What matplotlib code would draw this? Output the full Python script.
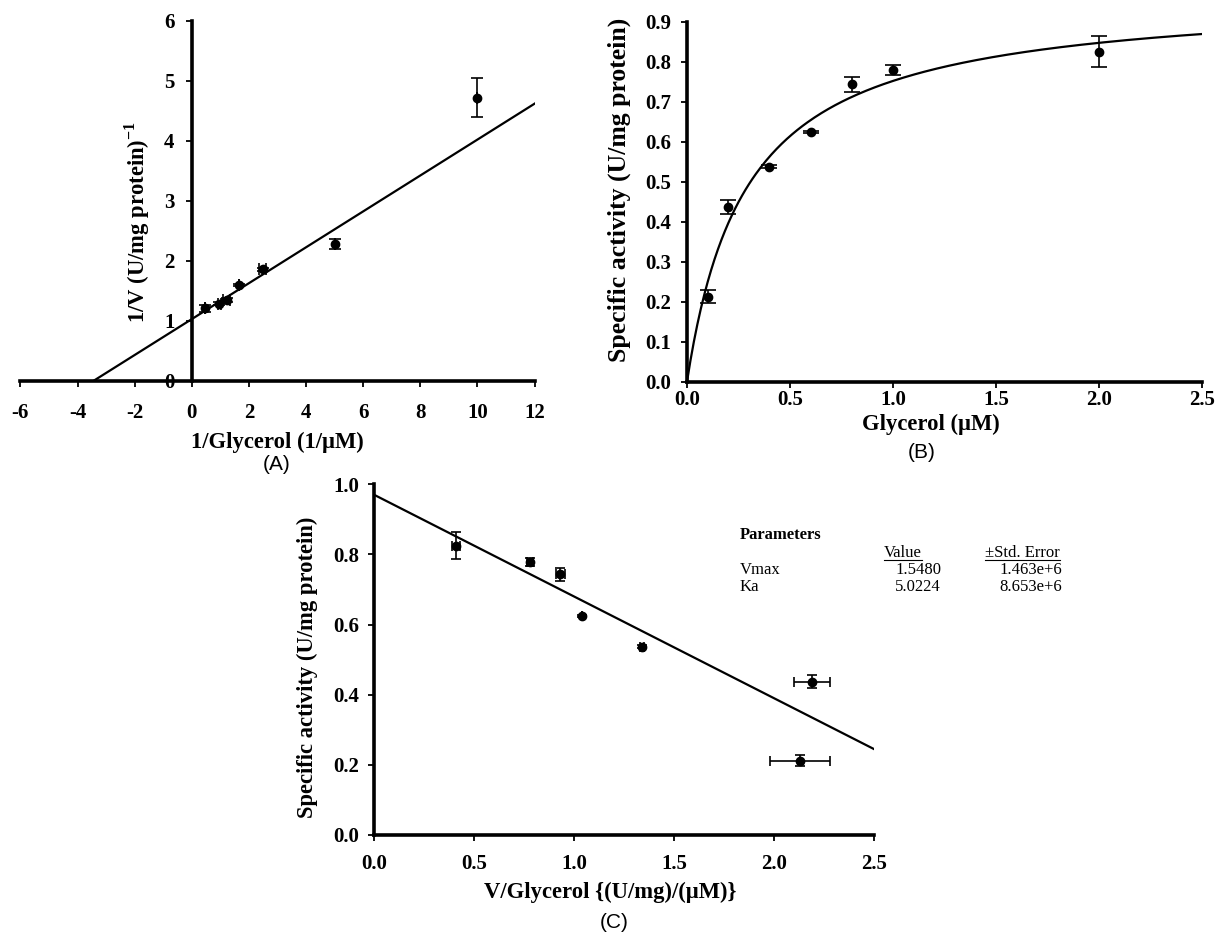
import numpy as np
import matplotlib
matplotlib.use("Agg")
import matplotlib.pyplot as plt
from matplotlib.lines import Line2D

plt.rcParams['font.family'] = ['Liberation Serif', 'DejaVu Serif']
plt.rcParams['mathtext.fontset'] = 'custom'
plt.rcParams['mathtext.rm'] = 'Liberation Serif'
plt.rcParams['mathtext.bf'] = 'Liberation Serif:bold'
plt.rcParams['axes.unicode_minus'] = False

# datos
glycerol = [0.1, 0.2, 0.4, 0.6, 0.8, 1.0, 2.0]
activity = [0.212, 0.437, 0.537, 0.624, 0.743, 0.779, 0.825]
activity_err = [0.016, 0.018, 0.004, 0.003, 0.018, 0.012, 0.039]

inv_glycerol = [10.0, 5.0, 2.48, 1.66, 1.22, 0.96, 0.46]
inv_activity = [4.72, 2.28, 1.86, 1.60, 1.35, 1.29, 1.21]
inv_activity_err = [0.33, 0.085, 0.02, 0.01, 0.03, 0.02, 0.055]
inv_glycerol_err = [0, 0, 0.12, 0, 0.12, 0.05, 0]

v_over_s = [2.13, 2.19, 1.34, 1.04, 0.93, 0.78, 0.41]
v_over_s_err = [0.148, 0.09, 0.01, 0, 0.022, 0.015, 0.02]

# parametros del ajuste (Michaelis-Menten)
vmax_fit = 0.97
km_fit = 0.29

param_names = ['Vmax', 'Ka']
param_values = ['1.5480', '5.0224']
param_errors = ['1.463e+6', '8.653e+6']

W, H = 1215, 935
fig = plt.figure(figsize=(W / 100, H / 100), dpi=100)

err_kw = dict(fmt='o', color='black', ms=6, elinewidth=1.2, capthick=1.2)


def style_axes(ax, xpad, ypad):
    ax.spines['top'].set_visible(False)
    ax.spines['right'].set_visible(False)
    for s in ['left', 'bottom']:
        ax.spines[s].set_linewidth(2.6)
    ax.tick_params(direction='out', length=4.5, width=1.3, labelsize=15)
    ax.tick_params(axis='x', pad=xpad)
    ax.tick_params(axis='y', pad=ypad)
    for lab in ax.get_xticklabels() + ax.get_yticklabels():
        lab.set_fontweight('bold')


# ---------- (A) Lineweaver-Burk ----------
axA = fig.add_axes([20.4 / W, 1 - 381 / H, 514.2 / W, 360.3 / H])
xa = np.linspace(-1 / km_fit, 12, 50)
axA.plot(xa, 1 / vmax_fit + km_fit / vmax_fit * xa, color='black', lw=1.6)
axA.errorbar(inv_glycerol, inv_activity, yerr=inv_activity_err,
             xerr=inv_glycerol_err, capsize=4.5, **err_kw)
axA.set_xlim(-6, 12)
axA.set_ylim(0, 6)
axA.set_xticks(np.arange(-6, 13, 2))
axA.set_yticks(np.arange(0, 7, 1))
axA.spines['left'].set_position(('data', 0))
style_axes(axA, 11, 8)
axA.set_xlabel('1/Glycerol (1/µM)', fontsize=16.3, fontweight='bold')
axA.xaxis.set_label_coords(0.5, -0.14)
axA.set_ylabel('1/V (U/mg protein)$^{\\mathbf{-1}}$', fontsize=16.3, fontweight='bold')
axA.yaxis.set_label_coords(0.256, 0.44)

# ---------- (B) Michaelis-Menten ----------
axB = fig.add_axes([687 / W, 1 - 381.7 / H, 515 / W, 360 / H])
xb = np.linspace(0, 2.5, 300)
axB.plot(xb, vmax_fit * xb / (km_fit + xb), color='black', lw=1.6)
axB.errorbar(glycerol, activity, yerr=activity_err, capsize=6, **err_kw)
axB.set_xlim(0, 2.5)
axB.set_ylim(0, 0.9)
axB.set_xticks(np.arange(0, 2.51, 0.5))
axB.set_yticks(np.arange(0, 0.91, 0.1))
axB.xaxis.set_major_formatter('{x:.1f}')
axB.yaxis.set_major_formatter('{x:.1f}')
style_axes(axB, 1.5, 7)
axB.set_xlabel('Glycerol (µM)', fontsize=16.3, fontweight='bold')
axB.xaxis.set_label_coords(0.474, -0.088)
axB.set_ylabel('Specific activity (U/mg protein)', fontsize=18.5, fontweight='bold')
axB.yaxis.set_label_coords(-0.109, 0.532)

# ---------- (C) Eadie-Hofstee ----------
axC = fig.add_axes([374.2 / W, 1 - 835 / H, 499.8 / W, 350.7 / H])
xc = np.linspace(0, 2.5, 50)
axC.plot(xc, vmax_fit - km_fit * xc, color='black', lw=1.6)
axC.errorbar(v_over_s, activity, yerr=activity_err, xerr=v_over_s_err,
             capsize=3.6, **err_kw)
axC.set_xlim(0, 2.5)
axC.set_ylim(0, 1.0)
axC.set_xticks(np.arange(0, 2.51, 0.5))
axC.set_yticks(np.arange(0, 1.01, 0.2))
axC.xaxis.set_major_formatter('{x:.1f}')
axC.yaxis.set_major_formatter('{x:.1f}')
style_axes(axC, 9, 6)
axC.set_xlabel('V/Glycerol {(U/mg)/(µM)}', fontsize=16.3, fontweight='bold')
axC.xaxis.set_label_coords(0.472, -0.133)
axC.set_ylabel('Specific activity (U/mg protein)', fontsize=16.3, fontweight='bold')
axC.yaxis.set_label_coords(-0.112, 0.479)

# tabla de parametros
def ftext(px, py, s, **kw):
    return fig.text(px / W, 1 - py / H, s, va='center', fontsize=12, **kw)

ftext(740, 535, 'Parameters', fontweight='bold')
t_val = ftext(922, 553, 'Value', ha='right')
t_err = ftext(985, 553, '±Std. Error', ha='left')
for i, name in enumerate(param_names):
    py = 570 + i * 17
    ftext(740, py, name)
    ftext(941, py, param_values[i], ha='right')
    ftext(1062, py, param_errors[i], ha='right')

fig.canvas.draw()
for t in [t_val, t_err]:
    bb = t.get_window_extent().transformed(fig.transFigure.inverted())
    fig.add_artist(Line2D([bb.x0, bb.x1], [bb.y0 + 0.001, bb.y0 + 0.001],
                          transform=fig.transFigure, color='black', lw=0.8))

# etiquetas de los paneles
for lab, px, py in [('(A)', 277, 465), ('(B)', 922, 452), ('(C)', 614, 923)]:
    fig.text(px / W, 1 - py / H, lab, ha='center', va='center', fontsize=15,
             family='Liberation Sans')

fig.savefig('out.png', dpi=100)
